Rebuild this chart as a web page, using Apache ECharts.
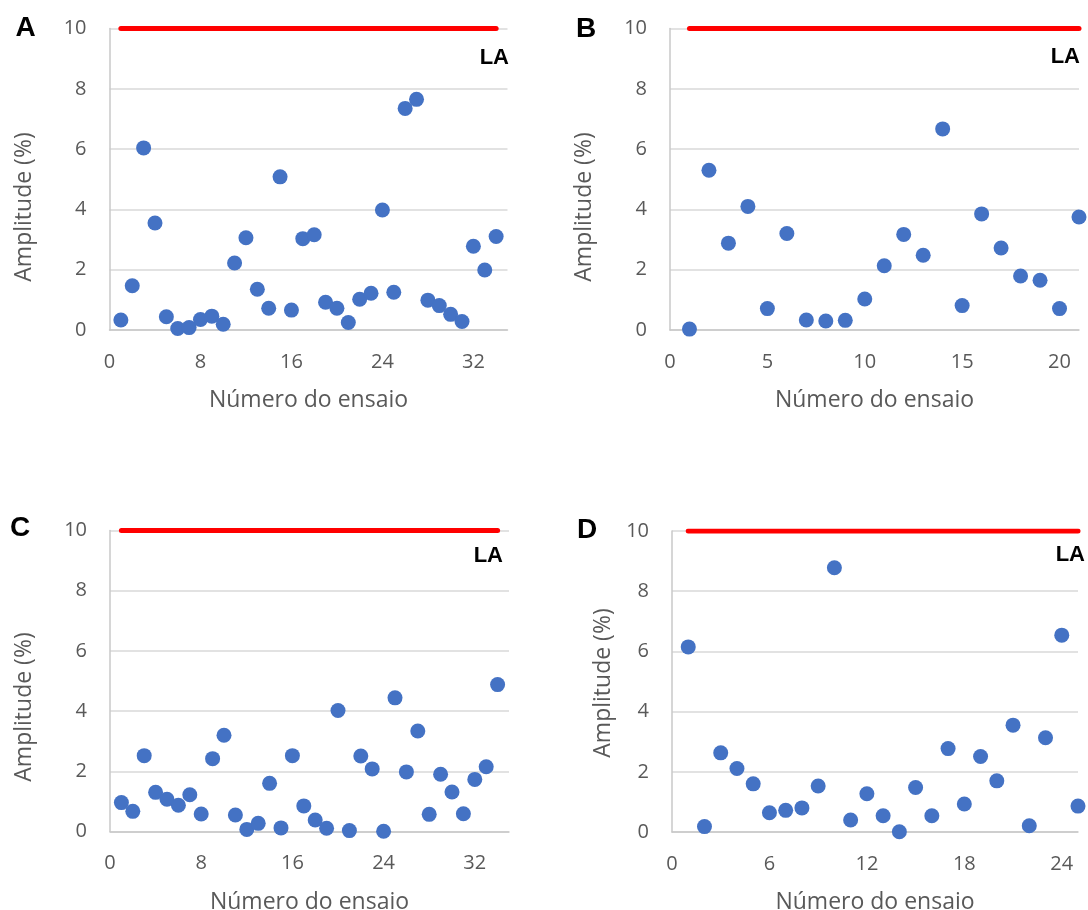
<!DOCTYPE html>
<html>
<head>
<meta charset="utf-8">
<script src="https://cdn.jsdelivr.net/npm/echarts@6/dist/echarts.min.js"></script>
<style>
html,body{margin:0;padding:0;background:#fff;}
#chart{width:1088px;height:910px;}
</style>
</head>
<body>
<div id="chart"></div>
<script>
// Amplitude (%) per ensaio
const valuesA = [0.33,1.47,6.04,3.55,0.44,0.05,0.08,0.35,0.46,0.19,2.22,3.06,1.35,0.72,5.08,0.66,3.03,3.16,0.92,0.72,0.25,1.02,1.22,3.98,1.25,7.35,7.65,0.99,0.81,0.52,0.28,2.78,1.99,3.10];
const valuesB = [0.03,5.30,2.88,4.10,0.71,3.20,0.33,0.30,0.32,1.03,2.13,3.17,2.48,6.67,0.81,3.85,2.72,1.79,1.65,0.71,3.75];
const valuesC = [0.96,0.67,2.52,1.30,1.07,0.87,1.22,0.58,2.42,3.20,0.55,0.07,0.27,1.60,0.12,2.52,0.85,0.38,0.11,4.02,0.03,2.51,2.08,0.01,4.44,1.98,3.34,0.57,1.90,1.31,0.59,1.73,2.15,4.88];
const valuesD = [6.15,0.18,2.63,2.11,1.60,0.64,0.72,0.80,1.53,8.78,0.40,1.27,0.54,0.01,1.48,0.54,2.77,0.93,2.51,1.70,3.55,0.21,3.13,6.54,0.86];
const panelLetters = ['A','B','C','D'];
const xMax = [35, 21, 35, 25];
const xInterval = [8, 5, 8, 6];
const limitLA = 10;
const limitLabel = 'LA';
const xTitle = 'Número do ensaio';
const yTitle = 'Amplitude (%)';

const allValues = [valuesA, valuesB, valuesC, valuesD];

const grids = [
  {left:109.5, top:28.5, width:398, height:301.5, outerBoundsMode:'none', containLabel:false},
  {left:670, top:28.5, width:409, height:301.5, outerBoundsMode:'none', containLabel:false},
  {left:110, top:530.5, width:399, height:301, outerBoundsMode:'none', containLabel:false},
  {left:672, top:531, width:406, height:301, outerBoundsMode:'none', containLabel:false}
];
const gray = '#595959';
const font = '"Open Sans", "Noto Sans", sans-serif';

const xAxes = [], yAxes = [], series = [];
grids.forEach((g, i) => {
  xAxes.push({
    type:'value', gridIndex:i, min:0, max:xMax[i], interval:xInterval[i],
    axisLine:{show:true, onZero:true, lineStyle:{color:'#C8C8C8', width:1.5}},
    axisTick:{show:false}, splitLine:{show:false},
    axisLabel:{color:gray, fontSize:20, fontFamily:font, margin:22, showMaxLabel:false},
    name:xTitle, nameLocation:'middle', nameGap:59,
    nameTextStyle:{color:gray, fontSize:23, fontFamily:font}
  });
  yAxes.push({
    type:'value', gridIndex:i, min:0, max:10, interval:2,
    axisLine:{show:true, lineStyle:{color:'#C8C8C8', width:1.5}},
    axisTick:{show:false},
    splitLine:{show:true, lineStyle:{color:'#D9D9D9', width:1.5}},
    axisLabel:{color:gray, fontSize:20, fontFamily:font, margin:23}
  });
  const vals = allValues[i];
  series.push({
    type:'line', xAxisIndex:i, yAxisIndex:i, symbol:'none', silent:true,
    data:[[1, limitLA],[vals.length, limitLA]],
    lineStyle:{color:'#FF0000', width:5, cap:'round'}, z:2
  });
  series.push({
    type:'scatter', xAxisIndex:i, yAxisIndex:i, symbolSize:15,
    itemStyle:{color:'#4472C4', opacity:1},
    data: vals.map((v, k) => [k+1, v]), z:3
  });
});

const letterPos = [[25.5,28.5],[586,29],[20,528],[587,530]];
const yTitlePos = [[24,207],[584,207],[24,707],[603,683]];
const laPos = [[509,58,'right'],[1080,57,'right'],[503,556,'right'],[1085,555,'right']];
const g2 = [];
panelLetters.forEach((L, i) => {
  g2.push({type:'text', x:letterPos[i][0], y:letterPos[i][1],
    style:{text:L, fill:'#000', font:'bold 28px "Liberation Sans", Arial, sans-serif', align:'center', verticalAlign:'middle'}});
  g2.push({type:'text', x:yTitlePos[i][0], y:yTitlePos[i][1], rotation:Math.PI/2,
    style:{text:yTitle, fill:gray, font:'23px "Open Sans", "Noto Sans", sans-serif', align:'center', verticalAlign:'middle'}});
  g2.push({type:'text', x:laPos[i][0], y:laPos[i][1],
    style:{text:limitLabel, fill:'#000', font:'bold 22px "Liberation Sans", Arial, sans-serif', align:laPos[i][2], verticalAlign:'middle'}});
});

const chart = echarts.init(document.getElementById('chart'));
chart.setOption({
  backgroundColor:'#fff',
  animation:false,
  grid:grids,
  xAxis:xAxes,
  yAxis:yAxes,
  series:series,
  graphic:g2
});
</script>
</body>
</html>
